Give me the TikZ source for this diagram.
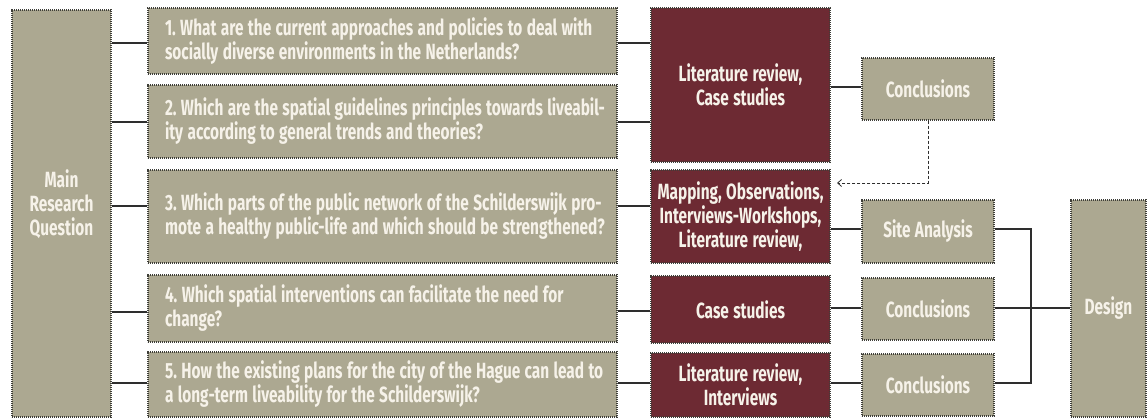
\documentclass[tikz,border=0pt]{standalone}
\usepackage{fontspec}
\newfontfamily\agency{Fira Sans}[FakeStretch=0.70, WordSpace=1.2]
\usetikzlibrary{arrows.meta}
\frenchspacing
\definecolor{boxg}{HTML}{ACA891}
\definecolor{boxm}{HTML}{6D2A33}
\definecolor{txtw}{HTML}{F6F2E9}
\definecolor{bord}{HTML}{3E3E38}
\definecolor{lineC}{HTML}{2E2E2E}
\tikzset{
  base/.style={draw=bord, line width=1.3pt, dash pattern=on 1.1pt off 0.9pt, inner sep=0pt, text=txtw,
    font=\agency\bfseries\fontsize{22}{24}\selectfont,
    execute at begin node={\spaceskip=0pt\xspaceskip=0pt}},
  gbox/.style={base, fill=boxg},
  mbox/.style={base, fill=boxm, minimum width=179pt, align=center},
  qbox/.style={gbox, text width=445pt, inner xsep=12pt, align=left,
    execute at begin node={\spaceskip=0pt\xspaceskip=0pt\leftskip=5pt}},
  cbox/.style={gbox, minimum width=132pt, minimum height=62pt},
  conn/.style={draw=lineC, line width=1.5pt},
  dconn/.style={draw=lineC, line width=0.8pt, dash pattern=on 3pt off 2pt},
  lab/.style={text=txtw, font=\agency\bfseries\fontsize{22}{24}\selectfont, align=center, inner sep=0pt,
    execute at begin node={\spaceskip=0pt\xspaceskip=0pt}}
}
\begin{document}
\begin{tikzpicture}[x=1pt, y=-1pt]
\useasboundingbox (0,0) rectangle (1148,418);
% main
\node[gbox, minimum width=99pt, minimum height=407pt] (main) at (61.5,213.5) {};
\node[lab] (mainlab) at (61.5,204) {Main\\Research\\Question};
% questions
\node[qbox, minimum height=66pt] (q1) at (382.5,41) {1. What are the current approaches and policies to deal with\\socially diverse environments in the Netherlands?};
\node[qbox, minimum height=73pt] (q2) at (382.5,121.5) {2. Which are the spatial guidelines principles towards liveabil-\\ity according to general trends and theories?};
\node[qbox, minimum height=93pt] (q3) at (382.5,216.5) {3. Which parts of the public network of the Schilderswijk pro-\\mote a healthy public-life and which should be strengthened?};
\node[qbox, minimum height=67pt] (q4) at (382.5,308.5) {4. Which spatial interventions can facilitate the need for\\change?};
\node[qbox, minimum height=65pt] (q5) at (382.5,384.5) {5. How the existing plans for the city of the Hague can lead to\\a long-term liveability for the Schilderswijk?};
% methods
\node[mbox, minimum height=154pt] (mA) at (740.5,85) {Literature review,\\Case studies};
\node[mbox, minimum height=93pt] (mB) at (740.5,216.5) {Mapping, Observations,\\Interviews-Workshops,\\Literature review,};
\node[mbox, minimum height=67pt] (mC) at (740.5,309.5) {Case studies};
\node[mbox, minimum height=64pt] (mD) at (740.5,385) {Literature review,\\Interviews};
% outcomes
\node[cbox] (c1) at (928,89) {Conclusions};
\node[cbox, minimum height=63pt] (site) at (928,231.5) {Site Analysis};
\node[cbox] (c2) at (928,309) {Conclusions};
\node[cbox] (c3) at (928,385) {Conclusions};
\node[gbox, minimum width=75pt, minimum height=217pt] (design) at (1108.5,308.5) {Design};
% connectors main -> questions
\draw[conn] (main.east |- 0,43) -- (q1.west |- 0,43);
\draw[conn] (main.east |- 0,122) -- (q2.west |- 0,122);
\draw[conn] (main.east |- 0,206) -- (q3.west |- 0,206);
\draw[conn] (main.east |- 0,312) -- (q4.west |- 0,312);
\draw[conn] (main.east |- 0,383) -- (q5.west |- 0,383);
% questions -> methods
\draw[conn] (q1.east |- 0,43) -- (mA.west |- 0,43);
\draw[conn] (q2.east |- 0,122) -- (mA.west |- 0,122);
\draw[conn] (q3.east |- 0,206) -- (mB.west |- 0,206);
\draw[conn] (q4.east |- 0,311) -- (mC.west |- 0,311);
\draw[conn] (q5.east |- 0,383) -- (mD.west |- 0,383);
% methods -> outcomes
\draw[conn] (mA.east |- 0,87) -- (c1.west |- 0,87);
\draw[conn] (mB.east |- 0,229) -- (site.west |- 0,229);
\draw[conn] (mC.east |- 0,308) -- (c2.west |- 0,308);
\draw[conn] (mD.east |- 0,383) -- (c3.west |- 0,383);
% bracket to design
\coordinate (bt) at (1031,229);
\coordinate (bb) at (1031,383);
\draw[conn] (site.east |- bt) -- (bt) -- (bb) -- (c3.east |- bb);
\draw[conn] (c2.east |- 0,308) -- (design.west |- 0,308);
% dashed feedback
\coordinate (fb) at (837,183);
\draw[dconn, -{Straight Barb[length=4pt,width=7pt,line width=0.8pt]}] (c1.south) |- (fb);
\end{tikzpicture}
\end{document}
